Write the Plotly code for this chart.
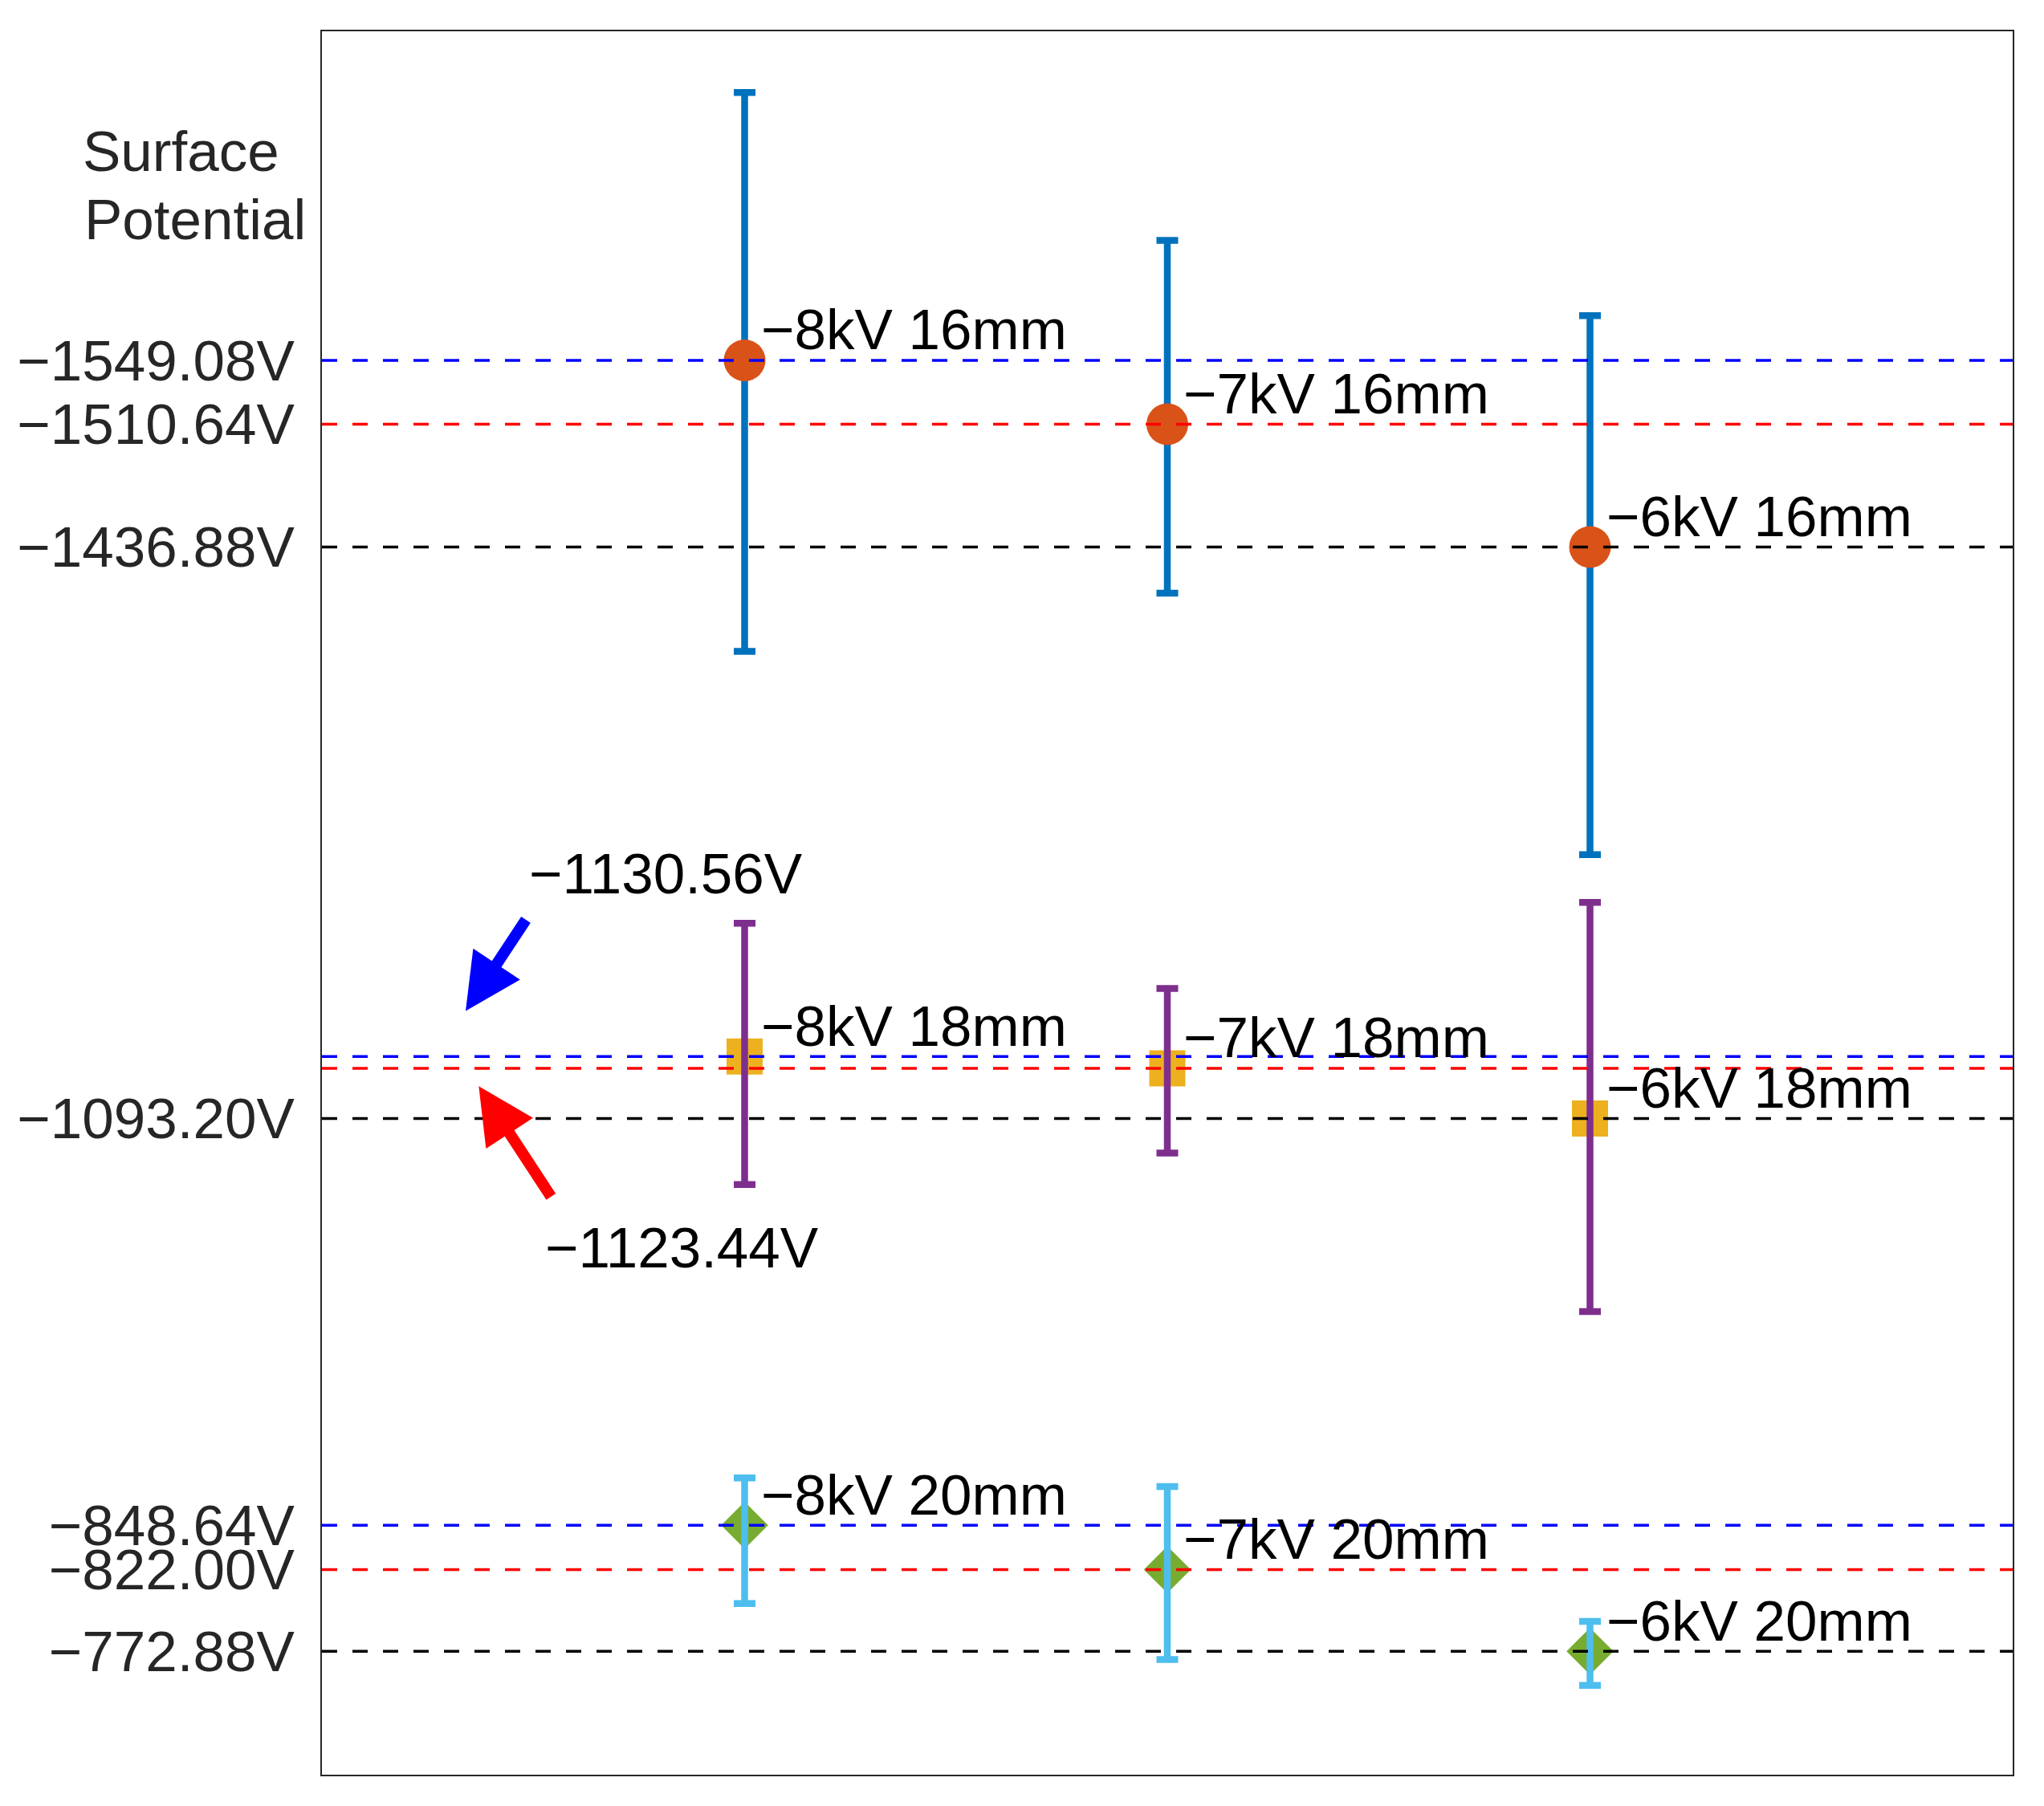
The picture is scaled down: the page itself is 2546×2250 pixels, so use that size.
import plotly.graph_objects as go

# voltage settings (x positions 1..3) and the three electrode gaps
voltages = ["−8kV", "−7kV", "−6kV"]
x_pos = [1, 2, 3]
gaps = ["16mm", "18mm", "20mm"]

# mean surface potential (V) for each gap
mean_16 = [-1549.08, -1510.64, -1436.88]
mean_18 = [-1130.56, -1123.44, -1093.20]
mean_20 = [-848.64, -822.00, -772.88]

# error bar lengths (V): toward more negative (up on screen) / toward less negative
err_neg_16 = [161.0, 110.5, 139.0]
err_pos_16 = [175.0, 101.5, 185.0]
err_neg_18 = [80.0, 48.0, 130.0]
err_pos_18 = [77.0, 51.0, 116.0]
err_neg_20 = [28.5, 50.0, 18.0]
err_pos_20 = [47.0, 54.0, 20.5]

# values labelled on the y axis
tick_values = [-1549.08, -1510.64, -1436.88, -1093.20, -848.64, -822.00, -772.88]

FONT = "Arial, Liberation Sans, sans-serif"
line_colors = ["#0000FF", "#FF0000", "#000000"]

groups = [
    dict(mean=mean_16, neg=err_neg_16, pos=err_pos_16, gap="16mm",
         bar="#0072BD", face="#D95319", symbol="circle", size=52, bar_on_top=False),
    dict(mean=mean_18, neg=err_neg_18, pos=err_pos_18, gap="18mm",
         bar="#7E2F8E", face="#EDB120", symbol="square", size=45, bar_on_top=True),
    dict(mean=mean_20, neg=err_neg_20, pos=err_pos_20, gap="20mm",
         bar="#4DBEEE", face="#77AC30", symbol="diamond", size=45, bar_on_top=True),
]

fig = go.Figure()

for g in groups:
    bars = go.Scatter(
        x=x_pos, y=g["mean"], mode="markers",
        marker=dict(size=0.1, color="rgba(0,0,0,0)"),
        error_y=dict(type="data", symmetric=False, array=g["pos"], arrayminus=g["neg"],
                     color=g["bar"], thickness=8.5, width=13.5),
        showlegend=False, hoverinfo="skip",
    )
    points = go.Scatter(
        x=x_pos, y=g["mean"], mode="markers",
        marker=dict(symbol=g["symbol"], size=g["size"], color=g["face"], line=dict(width=0)),
        showlegend=False,
    )
    if g["bar_on_top"]:
        fig.add_trace(points)
        fig.add_trace(bars)
    else:
        fig.add_trace(bars)
        fig.add_trace(points)

# dashed reference lines at every mean value
for g in groups:
    for v, c in zip(g["mean"], line_colors):
        fig.add_shape(type="line", xref="paper", x0=0, x1=1, yref="y", y0=v, y1=v,
                      line=dict(color=c, width=3.5, dash="19px,19px"), layer="above")

# point labels
for g in groups:
    for xv, yv, volt in zip(x_pos, g["mean"], voltages):
        fig.add_annotation(x=xv, y=yv, text=f"{volt} {g['gap']}", showarrow=False,
                           xanchor="left", yanchor="middle", xshift=18, yshift=38,
                           font=dict(family=FONT, size=71, color="black"))

# arrows pointing at the close 18mm values
fig.add_annotation(x=0.340, y=-1157.9, ax=76, ay=-115, text="", showarrow=True,
                   arrowhead=2, arrowsize=1.0, arrowwidth=14, arrowcolor="#0000FF")
fig.add_annotation(x=0.371, y=-1112.6, ax=91, ay=139, text="", showarrow=True,
                   arrowhead=2, arrowsize=1.0, arrowwidth=14, arrowcolor="#FF0000")
fig.add_annotation(x=0.487, y=-1240.5, text=f"−{abs(mean_18[0]):.2f}V", showarrow=False,
                   xanchor="left", yanchor="middle",
                   font=dict(family=FONT, size=71, color="black"))
fig.add_annotation(x=0.524, y=-1015.7, text=f"−{abs(mean_18[1]):.2f}V", showarrow=False,
                   xanchor="left", yanchor="middle",
                   font=dict(family=FONT, size=71, color="black"))

# axis title written horizontally at the top left
fig.add_annotation(xref="paper", yref="paper", x=0, y=0.931, xshift=-300, text="Surface",
                   showarrow=False, xanchor="left", yanchor="middle",
                   font=dict(family=FONT, size=71, color="#262626"))
fig.add_annotation(xref="paper", yref="paper", x=0, y=0.892, xshift=-298, text="Potential",
                   showarrow=False, xanchor="left", yanchor="middle",
                   font=dict(family=FONT, size=71, color="#262626"))

# the page body adds an 8px offset, so the figure is 8px smaller on each side
fig.update_layout(
    width=2538, height=2242, autosize=False,
    margin=dict(l=393, r=39, t=31, b=39),
    plot_bgcolor="white", paper_bgcolor="white",
    showlegend=False,
    xaxis=dict(range=[0, 4], showticklabels=False, ticks="", showgrid=False, zeroline=False,
               showline=True, mirror=True, linecolor="#262626", linewidth=2),
    yaxis=dict(range=[-698.7, -1746.9], tickvals=tick_values,
               ticktext=[f"−{abs(v):.2f}V" for v in tick_values],
               tickfont=dict(family=FONT, size=71, color="#262626"),
               ticks="", ticklabelstandoff=18, showgrid=False, zeroline=False,
               showline=True, mirror=True, linecolor="#262626", linewidth=2),
)

fig.write_html("out.html")
